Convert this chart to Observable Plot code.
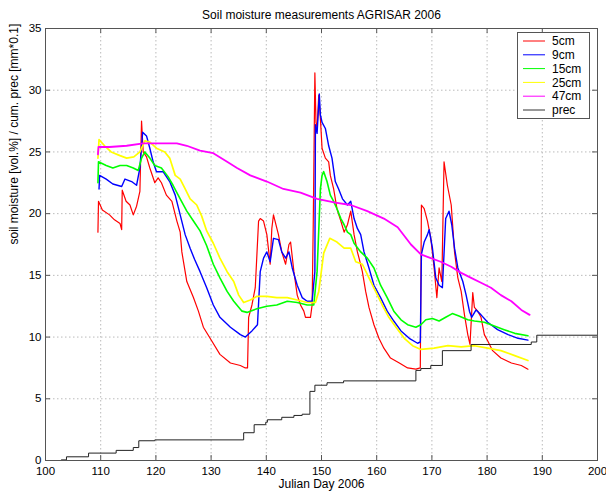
<!DOCTYPE html>
<html>
<head>
<meta charset="utf-8">
<script src="https://cdn.jsdelivr.net/npm/d3@7"></script>
<script src="https://cdn.jsdelivr.net/npm/@observablehq/plot@0.6"></script>
<style>
  html, body { margin: 0; padding: 0; background: #fff; }
  #wrap { position: relative; width: 606px; height: 494px; font-family: "Liberation Sans", Arial, sans-serif; }
  #legend { position: absolute; left: 517px; top: 32px; }
</style>
</head>
<body>
<div id="wrap"></div>
<script>
const xTicks = [100, 110, 120, 130, 140, 150, 160, 170, 180, 190, 200];
const yTicks = [0, 5, 10, 15, 20, 25, 30, 35];
const seriesNames = ["5cm", "9cm", "15cm", "25cm", "47cm", "prec"];
const seriesColors = ["#ff0000", "#0000ff", "#00ff00", "#ffff00", "#ff00ff", "#000000"];

const cm5 = [[109.5,18.5],[109.6,21.0],[110.3,20.3],[111.6,19.9],[112.5,19.5],[113.5,19.2],[113.8,18.7],[113.9,21.9],[114.6,21.0],[115.3,20.7],[115.9,19.9],[116.5,20.6],[117.1,21.8],[117.4,27.5],[117.7,25.0],[118.3,24.6],[118.9,23.7],[119.8,22.5],[120.4,22.9],[121.0,22.5],[121.9,21.5],[122.9,21.0],[123.8,19.4],[124.4,18.5],[124.7,16.9],[125.6,14.5],[126.8,13.2],[127.7,12.1],[128.6,10.8],[130.1,9.7],[131.6,8.6],[133.5,7.9],[135.3,7.7],[136.2,7.5],[136.6,7.5],[136.8,11.6],[137.4,12.6],[138.0,14.0],[138.6,19.4],[138.9,19.6],[139.5,19.4],[140.1,18.3],[140.7,15.9],[141.0,18.8],[141.3,19.9],[142.2,18.3],[142.8,16.9],[143.5,15.9],[144.1,17.5],[144.4,17.7],[145.0,15.3],[145.6,13.4],[146.2,12.6],[146.8,12.1],[147.1,11.6],[148.0,11.6],[148.3,12.6],[148.5,19.0],[148.8,31.4],[149.0,27.4],[149.2,26.9],[149.5,29.6],[149.8,27.7],[150.1,25.3],[150.7,24.5],[151.3,24.2],[151.6,23.1],[152.2,22.0],[152.8,20.4],[153.5,19.4],[154.1,18.5],[154.7,19.1],[155.3,20.2],[155.9,18.3],[156.5,16.9],[156.8,16.4],[157.4,15.3],[158.0,13.7],[158.6,12.4],[159.5,11.0],[160.4,9.9],[161.3,9.1],[162.5,8.3],[164.1,7.9],[165.6,7.5],[167.1,7.4],[167.9,7.5],[168.1,20.7],[168.6,20.4],[169.2,19.4],[169.8,18.0],[170.4,15.6],[170.9,13.2],[171.3,15.6],[171.8,14.5],[172.2,24.2],[172.8,22.3],[173.5,20.7],[174.1,16.9],[174.7,14.8],[175.3,13.7],[175.9,11.8],[176.5,10.2],[176.9,9.4],[177.4,13.6],[177.7,12.4],[178.3,12.1],[178.9,11.6],[179.5,10.2],[180.1,9.7],[181.0,8.9],[182.5,8.3],[184.4,7.9],[186.2,7.7],[187.4,7.4]];

const cm9 = [[109.7,22.0],[109.8,23.1],[111.0,22.8],[112.2,22.4],[113.8,22.2],[114.4,22.8],[115.6,22.6],[116.5,22.3],[117.1,23.7],[117.6,26.6],[118.3,26.3],[118.9,25.3],[119.5,24.2],[120.1,23.4],[121.3,23.4],[122.5,22.6],[123.5,21.5],[124.4,19.9],[125.3,18.3],[126.2,17.2],[127.0,16.3],[128.0,15.3],[129.2,14.0],[130.4,12.6],[131.6,11.6],[133.5,10.8],[135.3,10.2],[136.2,10.0],[137.4,10.5],[138.4,11.0],[138.9,15.3],[139.5,16.4],[140.1,16.9],[140.7,16.1],[141.3,18.0],[142.2,17.9],[142.8,16.9],[143.5,16.4],[144.1,16.9],[144.7,15.6],[145.6,14.2],[146.5,13.2],[147.4,12.9],[148.3,12.9],[148.8,15.3],[148.9,27.2],[149.2,26.5],[149.6,29.7],[149.8,28.0],[150.1,27.4],[150.7,26.9],[151.3,25.5],[151.9,24.5],[152.5,22.6],[153.1,22.0],[153.8,21.2],[154.7,20.7],[155.3,21.0],[155.9,19.6],[156.5,18.8],[157.1,18.3],[157.7,16.9],[158.6,15.6],[159.5,14.2],[160.7,13.2],[161.9,12.1],[163.1,11.3],[164.4,10.5],[165.9,9.9],[167.4,9.5],[167.9,9.6],[168.1,16.7],[168.6,17.7],[169.2,18.3],[169.5,18.7],[170.1,17.2],[170.7,14.8],[171.3,14.2],[171.9,14.0],[172.5,19.6],[173.1,20.2],[173.6,19.1],[174.1,17.2],[174.7,15.6],[175.6,14.5],[176.2,13.4],[176.8,12.1],[177.2,11.6],[178.0,12.2],[178.9,11.8],[180.1,11.2],[181.9,10.6],[183.8,10.2],[185.6,9.9],[187.4,9.75]];

const cm15 = [[109.5,22.5],[109.6,24.2],[111.0,23.9],[112.2,23.7],[113.5,23.9],[114.7,23.9],[115.9,23.7],[116.8,23.5],[117.4,24.5],[118.0,25.0],[118.9,24.5],[119.8,23.9],[121.0,23.7],[122.2,23.0],[123.1,22.3],[124.4,21.2],[125.6,20.2],[126.8,19.4],[128.0,18.6],[129.2,17.4],[130.4,15.9],[131.6,14.8],[132.9,13.7],[134.1,12.9],[135.6,12.1],[136.5,12.0],[138.3,12.3],[140.1,12.5],[141.9,12.6],[143.8,12.9],[145.6,12.8],[147.4,12.6],[148.6,12.6],[149.2,15.3],[149.8,22.0],[150.1,23.1],[150.4,23.4],[151.0,22.6],[151.6,21.5],[152.2,21.0],[152.8,20.4],[153.5,19.6],[154.1,19.1],[154.7,18.5],[155.3,18.3],[155.9,17.6],[157.1,16.9],[158.3,16.4],[159.5,15.6],[160.7,14.2],[161.9,13.2],[163.1,12.1],[164.4,11.4],[165.6,11.0],[167.1,10.8],[168.0,11.0],[168.9,11.4],[170.1,11.5],[171.3,11.3],[172.5,11.6],[173.7,11.9],[174.9,11.7],[176.5,11.4],[177.7,11.3],[179.5,11.2],[181.3,10.9],[183.1,10.6],[185.0,10.3],[187.4,10.1]];

const cm25 = [[109.5,24.5],[109.7,26.0],[110.7,25.5],[111.9,25.0],[113.5,24.7],[114.7,24.5],[116.0,24.6],[117.1,25.0],[118.0,25.9],[118.9,25.8],[120.1,25.3],[121.6,25.0],[122.5,24.5],[123.5,23.1],[124.4,22.8],[125.3,22.0],[126.2,21.2],[127.4,20.7],[128.3,19.8],[129.2,18.6],[130.4,17.6],[131.6,16.4],[132.9,15.3],[134.1,14.5],[135.0,13.4],[135.9,12.8],[137.1,13.0],[138.3,13.3],[140.1,13.3],[141.9,13.2],[143.8,13.2],[145.6,13.0],[147.4,12.8],[148.9,12.8],[149.5,13.7],[150.4,16.8],[151.5,18.0],[152.8,17.7],[154.1,17.2],[155.3,17.2],[156.2,16.1],[157.4,15.9],[158.6,14.8],[159.8,13.7],[161.0,12.6],[162.2,11.6],[163.5,10.8],[165.0,9.9],[166.5,9.3],[168.0,9.0],[170.4,9.1],[172.9,9.3],[175.3,9.2],[177.7,9.3],[180.1,9.1],[182.5,8.9],[185.0,8.5],[187.4,8.1]];

const cm47 = [[109.5,24.8],[109.6,25.4],[111.6,25.4],[114.7,25.5],[117.7,25.7],[120.7,25.7],[123.8,25.7],[125.6,25.5],[128.0,25.1],[130.4,24.9],[132.9,24.2],[134.7,23.7],[137.1,23.1],[140.1,22.6],[143.1,22.0],[146.2,21.7],[149.2,21.2],[152.5,20.9],[155.3,20.7],[158.3,20.2],[161.3,19.6],[163.8,18.9],[166.2,17.5],[168.0,16.7],[169.8,16.4],[171.6,16.1],[173.5,15.7],[175.3,15.2],[177.1,14.8],[178.9,14.4],[180.7,14.0],[182.5,13.4],[184.4,12.9],[186.2,12.2],[187.7,11.8]];

const prec = [[102.9,0.05],[103.8,0.3],[107.8,0.6],[112.8,0.82],[115.9,1.05],[116.9,1.6],[119.8,1.67],[135.9,2.25],[137.8,2.9],[139.9,3.1],[140.2,3.3],[142.8,3.5],[145.0,3.65],[146.5,3.75],[147.9,5.6],[148.8,6.1],[151.0,6.3],[154.0,6.45],[167.1,7.3],[168.0,7.45],[169.8,7.7],[171.9,8.9],[177.1,9.4],[188.0,9.6],[189.0,10.15],[200.0,10.15]];

const soilSeries = [cm5, cm9, cm15, cm25, cm47];
const soilWidths = [1.2, 1.4, 1.6, 1.7, 1.8];

const W = 606, H = 494;
const mL = 45, mR = 9, mT = 28, mB = 34;
const innerW = W - mL - mR, innerH = H - mT - mB;
const tick = 5;
const font = "Liberation Sans, Arial, sans-serif";

const lineMarks = soilSeries.map((s, i) =>
  Plot.line(s, {x: d => d[0], y: d => d[1], stroke: seriesColors[i], strokeWidth: soilWidths[i]})
);

const chart = Plot.plot({
  width: W, height: H,
  marginLeft: mL, marginRight: mR, marginTop: mT, marginBottom: mB,
  style: {fontFamily: font, fontSize: "11px", color: "#000", background: "#fff", overflow: "visible"},
  x: {domain: [100, 200]},
  y: {domain: [0, 35]},
  marks: [
    Plot.gridX(xTicks, {stroke: "#bbb", strokeOpacity: 1, strokeDasharray: "1.5,2.5"}),
    Plot.gridY(yTicks, {stroke: "#bbb", strokeOpacity: 1, strokeDasharray: "1.5,2.5"}),
    Plot.axisX(xTicks, {tickSize: 0, tickPadding: 6, fontSize: 11.5, label: null, tickFormat: d => String(d)}),
    Plot.axisY(yTicks, {tickSize: 0, tickPadding: 4, fontSize: 11.5, label: null, tickFormat: d => String(d)}),
    Plot.tickX(xTicks, {x: d => d, insetTop: innerH - tick, stroke: "#555"}),
    Plot.tickX(xTicks, {x: d => d, insetBottom: innerH - tick, stroke: "#555"}),
    Plot.tickY(yTicks, {y: d => d, insetLeft: innerW - tick, stroke: "#555"}),
    Plot.tickY(yTicks, {y: d => d, insetRight: innerW - tick, stroke: "#555"}),
    ...lineMarks,
    Plot.line(prec, {x: d => d[0], y: d => d[1], stroke: "#222", strokeWidth: 1, curve: "step-after"}),
    Plot.frame({stroke: "#555"}),
    Plot.text(["Soil moisture measurements AGRISAR 2006"], {frameAnchor: "top", dy: -18, fontSize: 12, fill: "#000"}),
    Plot.text(["Julian Day 2006"], {frameAnchor: "bottom", dy: 27, fontSize: 12, fill: "#000"}),
    Plot.text(["soil moisture [vol.%] / cum. prec [mm*0.1]"], {frameAnchor: "left", dx: -31, rotate: -90, fontSize: 12, fill: "#000"})
  ]
});

const wrap = document.getElementById("wrap");
wrap.appendChild(chart);

// legend box drawn as a small SVG overlay
const lw = 73, lh = 87, rowH = 13.8;
const lsvg = d3.select(wrap).append("svg")
  .attr("id", "legend")
  .attr("width", lw).attr("height", lh);
lsvg.append("rect")
  .attr("x", 0.5).attr("y", 0.5).attr("width", lw - 1).attr("height", lh - 1)
  .attr("fill", "#fff").attr("stroke", "#555");
const rows = lsvg.selectAll("g.row").data(seriesNames).join("g")
  .attr("class", "row")
  .attr("transform", (d, i) => `translate(0,${9 + i * rowH})`);
rows.append("line")
  .attr("x1", 6).attr("x2", 28).attr("y1", 0).attr("y2", 0)
  .attr("stroke", (d, i) => seriesColors[i] === "#000000" ? "#333" : seriesColors[i])
  .attr("stroke-width", 1);
rows.append("text")
  .attr("x", 35).attr("y", 0).attr("dy", "0.35em")
  .attr("font-size", 12).attr("font-family", font).attr("fill", "#000")
  .text(d => d);
</script>
</body>
</html>
